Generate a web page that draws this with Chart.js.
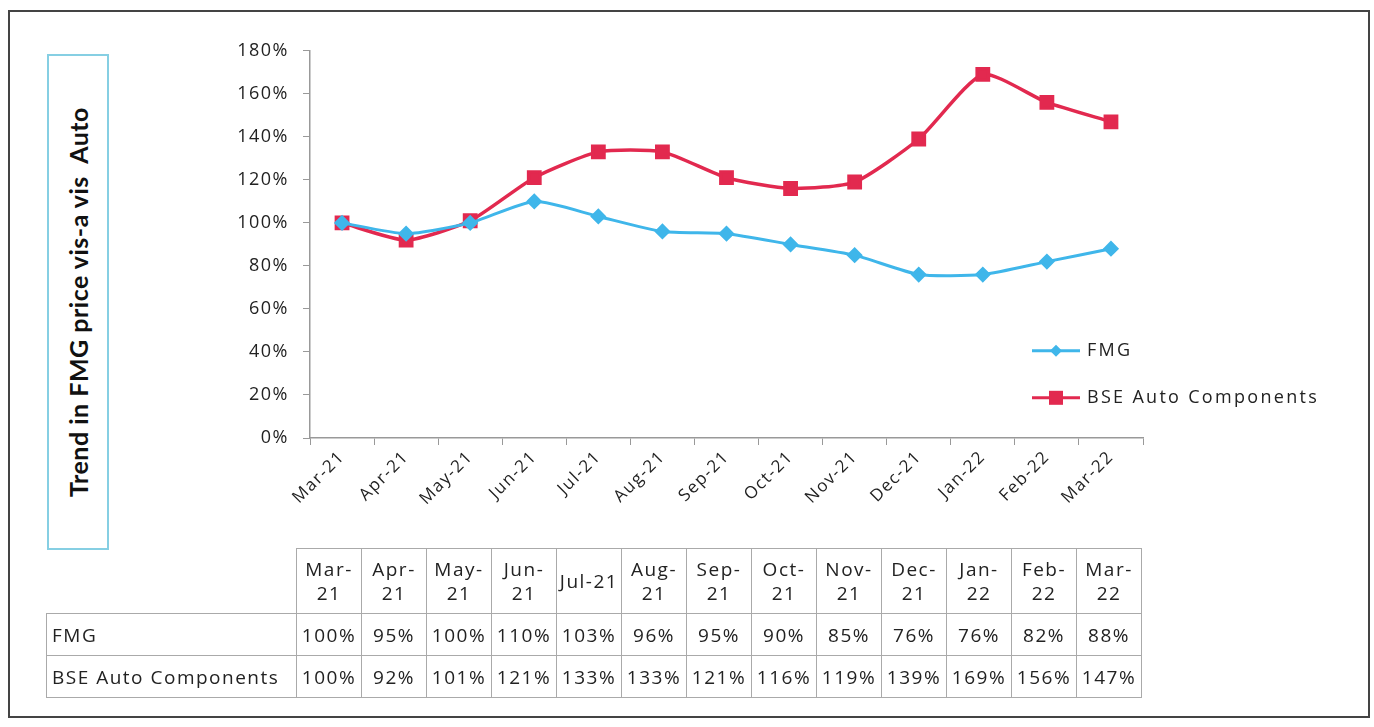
<!DOCTYPE html>
<html lang="en">
<head>
<meta charset="UTF-8">
<title>Trend in FMG price vis-a vis Auto</title>
<script src="https://cdn.jsdelivr.net/npm/chart.js"></script>
<style>
  body { margin: 0; background: #fff; font-family: "Open Sans", sans-serif; }
  .frame { position: absolute; left: 8px; top: 10px; width: 1358px; height: 704px; border: 2px solid #444; }
  .titlebox { position: absolute; left: 47px; top: 54px; width: 58px; height: 492px; border: 2px solid #86cfe3; }
  .titlebox span { position: absolute; left: 50%; top: 50%; transform: translate(-50%, -50%) rotate(-90deg);
    white-space: nowrap; font-family: Lato, sans-serif; font-weight: bold; font-size: 25px; color: #111; letter-spacing: 0.5px; }
  #wrap { position: absolute; left: 190px; top: 26px; width: 1170px; height: 524px; }
  table { position: absolute; left: 46px; top: 548px; border-collapse: collapse; font-size: 19px; color: #222; letter-spacing: 1.5px; }
  td { border: 1.5px solid #aaa; text-align: center; padding: 0; height: 41px; width: 64px; line-height: 24px; white-space: nowrap; }
  td.name { text-align: left; width: 244px; padding-left: 5px; }
  td.blank { border: none; border-right: 1.5px solid #aaa; }
  tr.head td { height: 64px; }
</style>
</head>
<body>
<div class="frame"></div>
<div class="titlebox"><span>Trend in FMG price vis-a vis&nbsp; Auto</span></div>
<div id="wrap"><canvas id="trendChart"></canvas></div>
<table id="dataTable"></table>

<script>
  const months = ['Mar-21', 'Apr-21', 'May-21', 'Jun-21', 'Jul-21', 'Aug-21', 'Sep-21',
    'Oct-21', 'Nov-21', 'Dec-21', 'Jan-22', 'Feb-22', 'Mar-22'];
  const fmg = [100, 95, 100, 110, 103, 96, 95, 90, 85, 76, 76, 82, 88];
  const bseAuto = [100, 92, 101, 121, 133, 133, 121, 116, 119, 139, 169, 156, 147];
  const yTicks = [0, 20, 40, 60, 80, 100, 120, 140, 160, 180];

  const seriesNames = ['FMG', 'BSE Auto Components'];
  const blue = '#3fb6ea';
  const red = '#e2294f';

  // data table under the chart
  const table = document.getElementById('dataTable');
  let html = '<tr class="head"><td class="name blank"></td>';
  months.forEach(m => {
    const parts = m.split('-');
    html += m === 'Jul-21' ? '<td>' + m + '</td>' : '<td>' + parts[0] + '-<br>' + parts[1] + '</td>';
  });
  html += '</tr>';
  [fmg, bseAuto].forEach((vals, i) => {
    html += '<tr><td class="name">' + seriesNames[i] + '</td>';
    vals.forEach(v => { html += '<td>' + v + '%</td>'; });
    html += '</tr>';
  });
  table.innerHTML = html;

  // wider letter spacing, the original text is loosely set
  const spacing = {
    id: 'spacing',
    beforeLayout(chart) { chart.ctx.letterSpacing = '1.5px'; },
    beforeDraw(chart) { chart.ctx.letterSpacing = '1.5px'; }
  };

  // legend drawn inside the plot, like the original
  const insideLegend = {
    id: 'insideLegend',
    afterDraw(chart) {
      const ctx = chart.ctx;
      const x0 = chart.chartArea.right - 111;
      chart.data.datasets.forEach((ds, i) => {
        const y = chart.chartArea.top + 300 + i * 47;
        ctx.save();
        ctx.strokeStyle = ds.borderColor;
        ctx.lineWidth = 3;
        ctx.beginPath();
        ctx.moveTo(x0, y);
        ctx.lineTo(x0 + 48, y);
        ctx.stroke();
        ctx.fillStyle = ds.pointBackgroundColor;
        if (ds.pointStyle === 'rect') {
          ctx.fillRect(x0 + 17, y - 7, 14, 14);
        } else {
          ctx.beginPath();
          ctx.moveTo(x0 + 24, y - 6);
          ctx.lineTo(x0 + 30, y);
          ctx.lineTo(x0 + 24, y + 6);
          ctx.lineTo(x0 + 18, y);
          ctx.closePath();
          ctx.fill();
        }
        ctx.fillStyle = '#222';
        ctx.font = '18px "Open Sans"';
        ctx.letterSpacing = '2.3px';
        ctx.textBaseline = 'middle';
        ctx.fillText(ds.label, x0 + 55, y);
        ctx.restore();
      });
    }
  };

  new Chart(document.getElementById('trendChart'), {
    type: 'line',
    data: {
      labels: months,
      datasets: [{
        label: seriesNames[0],
        data: fmg,
        borderColor: blue,
        backgroundColor: blue,
        pointBackgroundColor: blue,
        pointBorderColor: blue,
        pointStyle: 'rectRot',
        pointRadius: 6,
        borderWidth: 3,
        tension: 0.2
      }, {
        label: seriesNames[1],
        data: bseAuto,
        borderColor: red,
        backgroundColor: red,
        pointBackgroundColor: red,
        pointBorderColor: red,
        pointStyle: 'rect',
        pointRadius: 8,
        borderWidth: 3.5,
        tension: 0.2
      }]
    },
    options: {
      responsive: true,
      maintainAspectRatio: false,
      animation: false,
      layout: { padding: { top: 17, right: 217, left: 0, bottom: 0 } },
      plugins: {
        legend: { display: false },
        tooltip: { enabled: false }
      },
      scales: {
        x: {
          offset: true,
          grid: { drawOnChartArea: false, drawTicks: true, tickLength: 7, offset: true, color: '#999' },
          border: { color: '#999', width: 1.5 },
          ticks: {
            minRotation: 45,
            maxRotation: 45,
            color: '#222',
            font: { family: 'Open Sans', size: 17 },
            padding: 2
          },
          afterFit: function (scale) { scale.height = 112; }
        },
        y: {
          min: 0,
          max: 180,
          afterBuildTicks: function (scale) { scale.ticks = yTicks.map(v => ({ value: v })); },
          grid: { drawOnChartArea: false, tickLength: 7, color: '#999' },
          border: { color: '#999', width: 1.5 },
          ticks: {
            color: '#222',
            font: { family: 'Open Sans', size: 18 },
            padding: 14,
            callback: function (value) { return value + '%'; }
          },
          afterFit: function (scale) { scale.width = 120; }
        }
      }
    },
    plugins: [spacing, insideLegend]
  });
</script>
</body>
</html>
